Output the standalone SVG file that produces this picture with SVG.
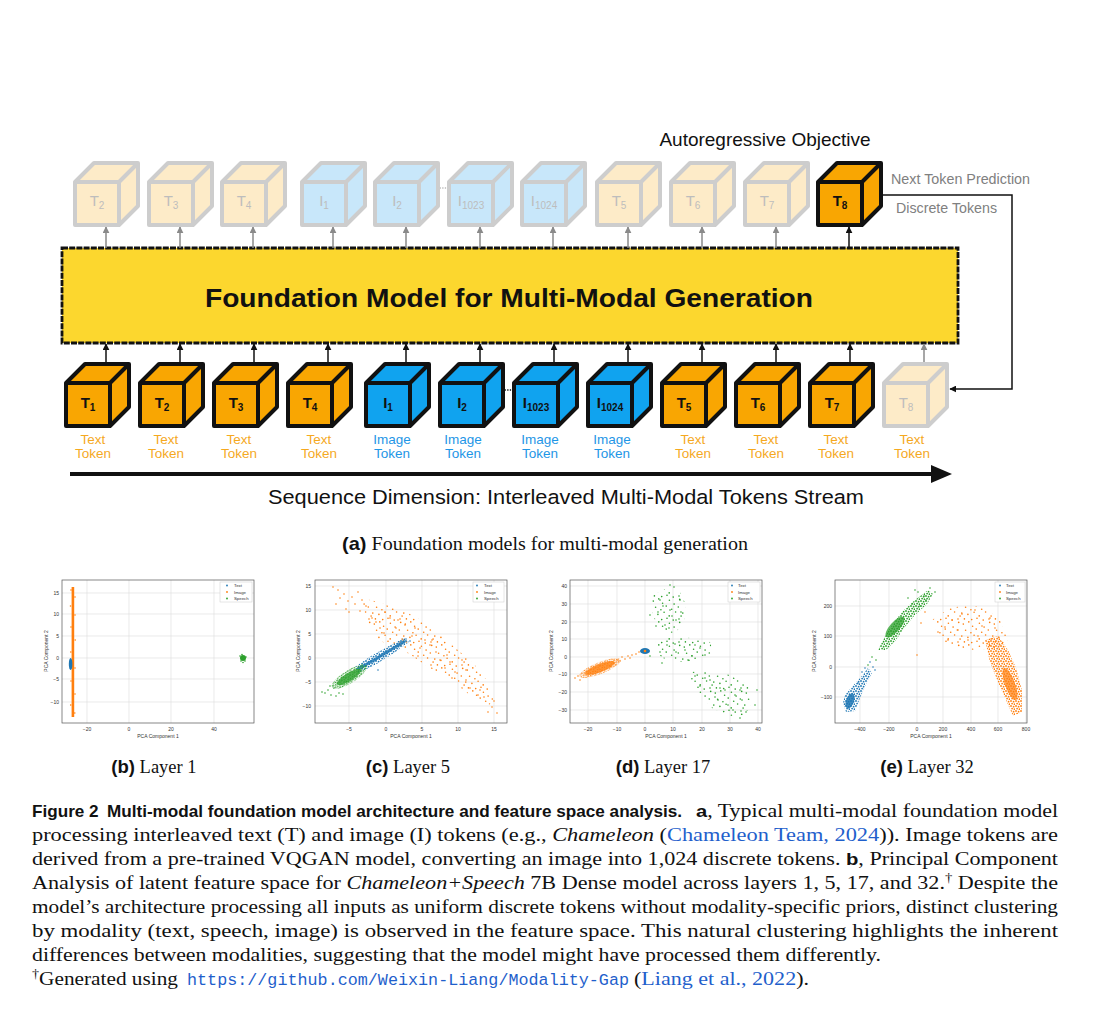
<svg xmlns="http://www.w3.org/2000/svg" xmlns:xlink="http://www.w3.org/1999/xlink" width="1100" height="1014" viewBox="0 0 1100 1014">
<style>
.sans{font-family:"Liberation Sans",Arial,sans-serif}
.cb-o{fill:#F9A602;stroke:#111;stroke-width:4;stroke-linejoin:round}
.cb-b{fill:#10A3EF;stroke:#111;stroke-width:4;stroke-linejoin:round}
.cb-fo{fill:#FDEBC8;stroke:#CDCDCD;stroke-width:4;stroke-linejoin:round}
.cb-fb{fill:#C8E7FA;stroke:#CDCDCD;stroke-width:4;stroke-linejoin:round}
.cl{font:bold 15px "Liberation Sans",Arial,sans-serif;fill:#111;text-anchor:middle}
.cf{font:15px "Liberation Sans",Arial,sans-serif;fill:#BDBDBD;text-anchor:middle}
.sb{font-size:10px}
.lt{font:13.5px "Liberation Sans",Arial,sans-serif;fill:#F5A91F;text-anchor:middle}
.li{font:13.5px "Liberation Sans",Arial,sans-serif;fill:#1E96E6;text-anchor:middle}
.ab{stroke:#111;stroke-width:1.5;fill:none}
.ag{stroke:#8a8a8a;stroke-width:1.5;fill:none}
.tk{font:5px "Liberation Sans",Arial,sans-serif;fill:#333}
.tkx{text-anchor:middle}
.tky{text-anchor:end}
.ax{fill:none;stroke:#555;stroke-width:.7}
.gr{stroke:#dcdcdc;stroke-width:.6;fill:none}
.lg{fill:#fff;stroke:#ccc;stroke-width:.5}
.lgt{font:4.3px "Liberation Sans",Arial,sans-serif;fill:#333}
.po{stroke:#ff7f0e;stroke-width:1.6;stroke-linecap:round;fill:none}
.pg{stroke:#2ca02c;stroke-width:1.6;stroke-linecap:round;fill:none}
.pb{stroke:#1f77b4;stroke-width:1.6;stroke-linecap:round;fill:none}
.cap{font-family:"Liberation Serif","Times New Roman",serif;font-size:18px;fill:#111}
.cb{font-family:"Liberation Sans",Arial,sans-serif;font-weight:bold}
.it{font-style:italic}
.lk{fill:#1f5fcc}
.mono{font-family:"Liberation Mono","Courier New",monospace;font-size:16.8px;fill:#1f5fcc}
.sub{font-family:"Liberation Serif","Times New Roman",serif;font-size:18.5px;fill:#111}
</style>
<defs>
<g id="cube"><path d="M0 19L19 0H63V43L44 62H0Z"/><path d="M0 19H44L63 0M44 19V62" fill="none"/></g>
<marker id="mb" viewBox="0 0 10 10" refX="9" refY="5" markerUnits="userSpaceOnUse" markerWidth="7" markerHeight="7" orient="auto"><path d="M0 0L10 5L0 10z" fill="#111"/></marker>
<marker id="mg" viewBox="0 0 10 10" refX="9" refY="5" markerUnits="userSpaceOnUse" markerWidth="7" markerHeight="7" orient="auto"><path d="M0 0L10 5L0 10z" fill="#8a8a8a"/></marker>
<g id="dS"><circle cx="2.3" cy="3.1" r=".8"/><circle cx="7.8" cy=".9" r=".8"/><circle cx="11.6" cy="5.2" r=".8"/><circle cx="18.4" cy="2.2" r=".8"/><circle cx="23.1" cy="6.1" r=".8"/><circle cx="28.7" cy="1.4" r=".8"/><circle cx="4.6" cy="9.3" r=".8"/><circle cx="9.9" cy="11.8" r=".8"/><circle cx="15.2" cy="8.1" r=".8"/><circle cx="20.7" cy="11.2" r=".8"/><circle cx="27.3" cy="9" r=".8"/><circle cx=".8" cy="15.1" r=".8"/><circle cx="6.9" cy="16.4" r=".8"/><circle cx="13.1" cy="14.2" r=".8"/><circle cx="18.2" cy="17.9" r=".8"/><circle cx="24.6" cy="14" r=".8"/><circle cx="30.1" cy="18.1" r=".8"/><circle cx="3.4" cy="20.9" r=".8"/><circle cx="10.7" cy="21.6" r=".8"/><circle cx="16" cy="20.3" r=".8"/><circle cx="22.2" cy="22.1" r=".8"/><circle cx="28" cy="21" r=".8"/></g>
<g id="dD"><circle cx="1" cy="1" r=".9"/><circle cx="3.6" cy="1.7" r=".9"/><circle cx="2.1" cy="3.6" r=".9"/><circle cx="4.5" cy="4.2" r=".9"/></g>
<pattern id="poS" width="31" height="23" patternUnits="userSpaceOnUse"><use xlink:href="#dS" fill="#ff7f0e"/></pattern>
<pattern id="poD" width="5" height="5" patternUnits="userSpaceOnUse"><use xlink:href="#dD" fill="#ff7f0e"/></pattern>
<pattern id="pgS" width="31" height="23" patternUnits="userSpaceOnUse"><use xlink:href="#dS" fill="#2ca02c"/></pattern>
<pattern id="pgD" width="5" height="5" patternUnits="userSpaceOnUse"><use xlink:href="#dD" fill="#2ca02c"/></pattern>
<pattern id="pbD" width="5" height="5" patternUnits="userSpaceOnUse"><use xlink:href="#dD" fill="#1f77b4"/></pattern>
</defs>
<rect width="1100" height="1014" fill="#fff"/>

<!-- Panel (a) -->
<text x="765" y="146" class="sans" font-size="19" text-anchor="middle" fill="#111">Autoregressive Objective</text>
<text x="891" y="184" class="sans" font-size="14" fill="#808080" textLength="139" lengthAdjust="spacingAndGlyphs">Next Token Prediction</text>
<text x="896" y="213" class="sans" font-size="14" fill="#808080" textLength="101" lengthAdjust="spacingAndGlyphs">Discrete Tokens</text>

<g id="foundation-model">
<rect x="62" y="248" width="896" height="95" fill="#FCD72E" stroke="#111" stroke-width="2.8" stroke-dasharray="6 1.2"/>
<text x="509" y="307" class="sans" font-size="26" font-weight="bold" text-anchor="middle" fill="#111" textLength="608" lengthAdjust="spacingAndGlyphs">Foundation Model for Multi-Modal Generation</text>
</g>

<g id="connectors">
<path class="ab" marker-end="url(#mb)" d="M106 364V344"/>
<path class="ab" marker-end="url(#mb)" d="M180 364V344"/>
<path class="ab" marker-end="url(#mb)" d="M254 364V344"/>
<path class="ab" marker-end="url(#mb)" d="M328 364V344"/>
<path class="ab" marker-end="url(#mb)" d="M406 364V344"/>
<path class="ab" marker-end="url(#mb)" d="M480 364V344"/>
<path class="ab" marker-end="url(#mb)" d="M554 364V344"/>
<path class="ab" marker-end="url(#mb)" d="M628 364V344"/>
<path class="ab" marker-end="url(#mb)" d="M702 364V344"/>
<path class="ab" marker-end="url(#mb)" d="M776 364V344"/>
<path class="ab" marker-end="url(#mb)" d="M850 364V344"/>
<path class="ag" marker-end="url(#mg)" d="M924 364V344"/>
<path class="ag" marker-end="url(#mg)" d="M106 248V227"/>
<path class="ag" marker-end="url(#mg)" d="M180 248V227"/>
<path class="ag" marker-end="url(#mg)" d="M253 248V227"/>
<path class="ag" marker-end="url(#mg)" d="M333 248V227"/>
<path class="ag" marker-end="url(#mg)" d="M406 248V227"/>
<path class="ag" marker-end="url(#mg)" d="M480 248V227"/>
<path class="ag" marker-end="url(#mg)" d="M553 248V227"/>
<path class="ag" marker-end="url(#mg)" d="M628 248V227"/>
<path class="ag" marker-end="url(#mg)" d="M702 248V227"/>
<path class="ag" marker-end="url(#mg)" d="M776 248V227"/>
<path class="ab" marker-end="url(#mb)" d="M849 248V227"/>
<path class="ab" marker-end="url(#mb)" d="M882 195H1012V389H950"/>
<path d="M502 390H514" stroke="#111" stroke-width="1.3" stroke-dasharray="1.3 1.3"/>
<path d="M437 188H449" stroke="#bbb" stroke-width="1.3" stroke-dasharray="1.3 1.3"/>
<path d="M70 474H934" stroke="#111" stroke-width="4"/>
<path d="M931 465L952 474L931 483Z" fill="#111"/>
</g>

<!-- top row cubes -->
<g id="top-T2"><use xlink:href="#cube" x="75" y="163" class="cb-fo"/><text x="97" y="206" class="cf">T<tspan class="sb" dy="3">2</tspan></text></g>
<g id="top-T3"><use xlink:href="#cube" x="149" y="163" class="cb-fo"/><text x="171" y="206" class="cf">T<tspan class="sb" dy="3">3</tspan></text></g>
<g id="top-T4"><use xlink:href="#cube" x="222" y="163" class="cb-fo"/><text x="244" y="206" class="cf">T<tspan class="sb" dy="3">4</tspan></text></g>
<g id="top-I1"><use xlink:href="#cube" x="302" y="163" class="cb-fb"/><text x="324" y="206" class="cf">I<tspan class="sb" dy="3">1</tspan></text></g>
<g id="top-I2"><use xlink:href="#cube" x="375" y="163" class="cb-fb"/><text x="397" y="206" class="cf">I<tspan class="sb" dy="3">2</tspan></text></g>
<g id="top-I1023"><use xlink:href="#cube" x="449" y="163" class="cb-fb"/><text x="471" y="206" class="cf">I<tspan class="sb" dy="3">1023</tspan></text></g>
<g id="top-I1024"><use xlink:href="#cube" x="522" y="163" class="cb-fb"/><text x="544" y="206" class="cf">I<tspan class="sb" dy="3">1024</tspan></text></g>
<g id="top-T5"><use xlink:href="#cube" x="597" y="163" class="cb-fo"/><text x="619" y="206" class="cf">T<tspan class="sb" dy="3">5</tspan></text></g>
<g id="top-T6"><use xlink:href="#cube" x="671" y="163" class="cb-fo"/><text x="693" y="206" class="cf">T<tspan class="sb" dy="3">6</tspan></text></g>
<g id="top-T7"><use xlink:href="#cube" x="745" y="163" class="cb-fo"/><text x="767" y="206" class="cf">T<tspan class="sb" dy="3">7</tspan></text></g>
<g id="top-T8"><use xlink:href="#cube" x="818" y="163" class="cb-o"/><text x="840" y="206" class="cl">T<tspan class="sb" dy="3">8</tspan></text></g>

<!-- bottom row cubes -->
<g id="in-T1"><use xlink:href="#cube" x="66" y="364" class="cb-o"/><text x="88" y="408" class="cl">T<tspan class="sb" dy="3">1</tspan></text><text x="93" y="444" class="lt">Text</text><text x="93" y="458" class="lt">Token</text></g>
<g id="in-T2"><use xlink:href="#cube" x="140" y="364" class="cb-o"/><text x="162" y="408" class="cl">T<tspan class="sb" dy="3">2</tspan></text><text x="166" y="444" class="lt">Text</text><text x="166" y="458" class="lt">Token</text></g>
<g id="in-T3"><use xlink:href="#cube" x="214" y="364" class="cb-o"/><text x="236" y="408" class="cl">T<tspan class="sb" dy="3">3</tspan></text><text x="239" y="444" class="lt">Text</text><text x="239" y="458" class="lt">Token</text></g>
<g id="in-T4"><use xlink:href="#cube" x="288" y="364" class="cb-o"/><text x="310" y="408" class="cl">T<tspan class="sb" dy="3">4</tspan></text><text x="319" y="444" class="lt">Text</text><text x="319" y="458" class="lt">Token</text></g>
<g id="in-I1"><use xlink:href="#cube" x="366" y="364" class="cb-b"/><text x="388" y="408" class="cl">I<tspan class="sb" dy="3">1</tspan></text><text x="392" y="444" class="li">Image</text><text x="392" y="458" class="li">Token</text></g>
<g id="in-I2"><use xlink:href="#cube" x="440" y="364" class="cb-b"/><text x="462" y="408" class="cl">I<tspan class="sb" dy="3">2</tspan></text><text x="463" y="444" class="li">Image</text><text x="463" y="458" class="li">Token</text></g>
<g id="in-I1023"><use xlink:href="#cube" x="514" y="364" class="cb-b"/><text x="536" y="408" class="cl">I<tspan class="sb" dy="3">1023</tspan></text><text x="540" y="444" class="li">Image</text><text x="540" y="458" class="li">Token</text></g>
<g id="in-I1024"><use xlink:href="#cube" x="588" y="364" class="cb-b"/><text x="610" y="408" class="cl">I<tspan class="sb" dy="3">1024</tspan></text><text x="612" y="444" class="li">Image</text><text x="612" y="458" class="li">Token</text></g>
<g id="in-T5"><use xlink:href="#cube" x="662" y="364" class="cb-o"/><text x="684" y="408" class="cl">T<tspan class="sb" dy="3">5</tspan></text><text x="693" y="444" class="lt">Text</text><text x="693" y="458" class="lt">Token</text></g>
<g id="in-T6"><use xlink:href="#cube" x="736" y="364" class="cb-o"/><text x="758" y="408" class="cl">T<tspan class="sb" dy="3">6</tspan></text><text x="766" y="444" class="lt">Text</text><text x="766" y="458" class="lt">Token</text></g>
<g id="in-T7"><use xlink:href="#cube" x="810" y="364" class="cb-o"/><text x="832" y="408" class="cl">T<tspan class="sb" dy="3">7</tspan></text><text x="836" y="444" class="lt">Text</text><text x="836" y="458" class="lt">Token</text></g>
<g id="in-T8"><use xlink:href="#cube" x="884" y="364" class="cb-fo"/><text x="906" y="408" class="cf">T<tspan class="sb" dy="3">8</tspan></text><text x="912" y="444" class="lt">Text</text><text x="912" y="458" class="lt">Token</text></g>

<text x="566" y="504" class="sans" font-size="20.5" text-anchor="middle" fill="#111" textLength="596" lengthAdjust="spacingAndGlyphs">Sequence Dimension: Interleaved Multi-Modal Tokens Stream</text>

<text x="342" y="550" class="sub" font-size="17" textLength="406" lengthAdjust="spacingAndGlyphs"><tspan class="cb">(a)</tspan>  Foundation models for multi-modal generation</text>

<!-- Plot (b) -->
<g id="plot-b">
<path class="gr" d="M87 580V723M129 580V723M171 580V723M214 580V723M62 593H254M62 614H254M62 636H254M62 658H254M62 679H254M62 702H254"/>
<rect x="71.6" y="587" width="2.6" height="130" fill="#ff7f0e"/>
<path class="po" d="M71 590h0M75 597h0M70.5 606h0M75 615h0M71 627h0M75.2 640h0M70.8 652h0M75 668h0M71 681h0M75 694h0M70.7 705h0M74.8 713h0"/>
<ellipse cx="70.6" cy="664" rx="1.8" ry="6" fill="#1f77b4"/>
<circle cx="243" cy="658" r="3" fill="#2ca02c"/>
<path class="pg" d="M240 656h0M246 657h0M241 661h0M245 661h0M243 662.5h0M242 654.5h0"/>
<rect x="62" y="580" width="192" height="143" class="ax"/>
<g class="tk tkx"><text x="87" y="731">−20</text><text x="129" y="731">0</text><text x="171" y="731">20</text><text x="214" y="731">40</text><text x="158" y="738">PCA Component 1</text></g>
<g class="tk tky"><text x="59" y="595">15</text><text x="59" y="616">10</text><text x="59" y="638">5</text><text x="59" y="660">0</text><text x="59" y="681">−5</text><text x="59" y="704">−10</text></g>
<text class="tk tkx" transform="translate(48 651) rotate(-90)">PCA Component 2</text>
<rect x="220" y="582" width="32" height="20" class="lg"/>
<circle cx="227" cy="585.5" r=".9" fill="#1f77b4"/><circle cx="227" cy="592" r=".9" fill="#ff7f0e"/><circle cx="227" cy="598.5" r=".9" fill="#2ca02c"/>
<g class="lgt"><text x="234" y="587">Text</text><text x="234" y="593.5">Image</text><text x="234" y="600">Speech</text></g>
</g>
<text x="154" y="773" class="sub" text-anchor="middle"><tspan class="cb">(b)</tspan>  Layer 1</text>

<!-- Plot (c) -->
<g id="plot-c">
<path class="gr" d="M349 580V723M386 580V723M422 580V723M458 580V723M494 580V723M315 586H507M315 610H507M315 634H507M315 658H507M315 682H507M315 706H507"/>
<path fill="url(#poS)" d="M362 598L378 602L392 607L408 613L424 622L440 634L458 650L474 664L488 682L494 700L488 706L474 698L458 686L440 674L424 664L406 652L392 646L378 640L368 628L364 612Z"/>
<path class="po" d="M333 587h0M338 590h0M340 598h0M344 594h0M348 601h0M336 604h0M346 609h0M352 597h0M355 604h0M358 592h0M362 600h0M349 612h0M360 611h0M366 606h0M372 618h0M385 612h0M398 620h0M415 628h0M432 640h0M447 655h0M466 670h0M480 690h0M497 713h0M492 707h0M488 712h0M494 701h0M384 633h0M403 640h0M420 648h0M440 660h0M455 672h0M470 688h0M478 695h0M430 645h0M450 662h0M412 636h0M396 628h0M376 622h0M466 680h0M484 697h0M405 625h0M425 640h0M445 668h0M462 660h0M436 652h0M390 618h0M380 628h0M418 656h0M452 678h0"/>
<path fill="url(#pbD)" d="M355 667L371 656L389 646L404 638L409 642L394 653L375 665L358 673Z"/>
<path d="M358 669L374 660L392 649L405 641" stroke="#1f77b4" stroke-width="3" fill="none" opacity=".85"/>
<path class="pb" d="M410 641h0M406 639h0M398 646h0M386 652h0M376 660h0M365 666h0M378 670h0"/>
<ellipse cx="349" cy="677" rx="20" ry="6.5" transform="rotate(-32 349 677)" fill="url(#pgD)"/>
<ellipse cx="349" cy="677" rx="14" ry="4" transform="rotate(-32 349 677)" fill="#2ca02c" opacity=".8"/>
<path class="pg" d="M325 693h0M328 690h0M331 695h0M334 688h0M322 692h0M339 693h0M343 694h0M362 665h0M366 666h0M330 686h0M336 696h0"/>
<rect x="315" y="580" width="192" height="143" class="ax"/>
<g class="tk tkx"><text x="349" y="731">−5</text><text x="386" y="731">0</text><text x="422" y="731">5</text><text x="458" y="731">10</text><text x="494" y="731">15</text><text x="411" y="738">PCA Component 1</text></g>
<g class="tk tky"><text x="311" y="588">15</text><text x="311" y="612">10</text><text x="311" y="636">5</text><text x="311" y="660">0</text><text x="311" y="684">−5</text><text x="311" y="708">−10</text></g>
<text class="tk tkx" transform="translate(300 651) rotate(-90)">PCA Component 2</text>
<rect x="473" y="582" width="31" height="20" class="lg"/>
<circle cx="477" cy="585.5" r=".9" fill="#1f77b4"/><circle cx="477" cy="592" r=".9" fill="#ff7f0e"/><circle cx="477" cy="598.5" r=".9" fill="#2ca02c"/>
<g class="lgt"><text x="484" y="587">Text</text><text x="484" y="593.5">Image</text><text x="484" y="600">Speech</text></g>
</g>
<text x="408" y="773" class="sub" text-anchor="middle"><tspan class="cb">(c)</tspan>  Layer 5</text>

<!-- Plot (d) -->
<g id="plot-d">
<path class="gr" d="M588 580V723M617 580V723M645 580V723M673 580V723M702 580V723M730 580V723M758 580V723M570 586H762M570 604H762M570 622H762M570 639H762M570 657H762M570 674H762M570 692H762M570 710H762"/>
<ellipse cx="600" cy="668" rx="22" ry="6" transform="rotate(-22 600 668)" fill="url(#poD)"/>
<ellipse cx="600" cy="668" rx="16" ry="4" transform="rotate(-22 600 668)" fill="#ff7f0e" opacity=".8"/>
<path class="po" d="M620 661h0M625 659h0M628 656h0M632 655h0M636 654h0M639 652h0M614 663h0M618 660h0M622 657h0M630 658h0M578 676h0M575 678h0M580 680h0M610 666h0"/>
<ellipse cx="645" cy="651" rx="5" ry="3" fill="#1f77b4"/>
<circle cx="645" cy="651" r="1.3" fill="#ff7f0e"/>
<path fill="url(#pgS)" d="M652 595L668 588L680 592L686 605L684 622L676 632L664 634L655 620L650 605Z"/>
<path fill="url(#pgS)" d="M656 640L670 636L690 638L710 642L713 652L700 660L680 662L662 658L655 650Z"/>
<path fill="url(#pgS)" d="M690 672L710 670L730 675L748 685L753 700L745 715L730 716L712 708L700 695L690 682Z"/>
<path class="pg" d="M674 587h0M670 585h0M656 626h0M650 615h0M660 600h0M670 610h0M676 620h0M665 625h0M680 600h0M667 645h0M685 650h0M700 648h0M692 656h0M676 652h0M660 652h0M705 678h0M720 688h0M735 695h0M728 705h0M742 700h0M715 697h0M757 690h0M755 705h0M740 718h0M746 712h0M695 676h0M650 656h0M662 663h0M663 606h0M672 616h0M681 612h0M669 628h0M658 612h0M675 644h0M695 645h0M705 655h0M688 660h0M710 680h0M725 690h0M733 710h0M718 700h0M740 690h0M700 686h0"/>
<rect x="570" y="580" width="192" height="143" class="ax"/>
<g class="tk tkx"><text x="588" y="731">−20</text><text x="617" y="731">−10</text><text x="645" y="731">0</text><text x="673" y="731">10</text><text x="702" y="731">20</text><text x="730" y="731">30</text><text x="758" y="731">40</text><text x="666" y="738">PCA Component 1</text></g>
<g class="tk tky"><text x="567" y="588">40</text><text x="567" y="606">30</text><text x="567" y="624">20</text><text x="567" y="641">10</text><text x="567" y="659">0</text><text x="567" y="676">−10</text><text x="567" y="694">−20</text><text x="567" y="712">−30</text></g>
<text class="tk tkx" transform="translate(553 651) rotate(-90)">PCA Component 2</text>
<rect x="728" y="582" width="32" height="20" class="lg"/>
<circle cx="732" cy="585.5" r=".9" fill="#1f77b4"/><circle cx="732" cy="592" r=".9" fill="#ff7f0e"/><circle cx="732" cy="598.5" r=".9" fill="#2ca02c"/>
<g class="lgt"><text x="738" y="587">Text</text><text x="738" y="593.5">Image</text><text x="738" y="600">Speech</text></g>
</g>
<text x="663" y="773" class="sub" text-anchor="middle"><tspan class="cb">(d)</tspan>  Layer 17</text>

<!-- Plot (e) -->
<g id="plot-e">
<path class="gr" d="M860 580V723M889 580V723M917 580V723M943 580V723M971 580V723M998 580V723M1026 580V723M835 606H1027M835 636H1027M835 667H1027M835 697H1027"/>
<path fill="url(#pbD)" d="M843 703L846 712L855 711L860 698L866 684L872 673L868 668L860 678L851 688L845 695Z"/>
<ellipse cx="850" cy="701" rx="4" ry="8" transform="rotate(20 850 701)" fill="#1f77b4" opacity=".85"/>
<path class="pb" d="M865 668h0M870 662h0M862 672h0M873 667h0M875 670h0M858 683h0"/>
<path fill="url(#pgD)" d="M878 650L884 638L892 625L902 612L915 600L928 590L933 594L927 604L914 616L904 628L896 640L886 650Z"/>
<ellipse cx="895" cy="627" rx="13" ry="5" transform="rotate(-48 895 627)" fill="#2ca02c" opacity=".75"/>
<path class="pg" d="M872 657h0M876 660h0M868 665h0M918 592h0M924 596h0M930 588h0M935 592h0M912 604h0M920 606h0M926 600h0M908 598h0M915 590h0"/>
<path fill="url(#poS)" d="M932 620L950 608L968 605L985 608L1000 620L1008 640L996 648L975 650L955 648L940 640Z"/>
<path class="po" d="M925 612h0M921 623h0M945 627h0M962 614h0M975 610h0M917 655h0M952 620h0M990 618h0M938 632h0M982 626h0M968 640h0M958 630h0M978 636h0M995 628h0M948 640h0"/>
<path fill="url(#poD)" d="M985 640L998 636L1008 650L1016 668L1022 690L1022 712L1013 716L1006 700L998 682L990 662Z"/>
<ellipse cx="1010" cy="684" rx="5" ry="17" transform="rotate(-20 1010 684)" fill="#ff7f0e" opacity=".7"/>
<rect x="835" y="580" width="192" height="143" class="ax"/>
<g class="tk tkx"><text x="860" y="731">−400</text><text x="889" y="731">−200</text><text x="917" y="731">0</text><text x="943" y="731">200</text><text x="971" y="731">400</text><text x="998" y="731">600</text><text x="1026" y="731">800</text><text x="931" y="738">PCA Component 1</text></g>
<g class="tk tky"><text x="832" y="608">200</text><text x="832" y="638">100</text><text x="832" y="669">0</text><text x="832" y="699">−100</text></g>
<text class="tk tkx" transform="translate(816 651) rotate(-90)">PCA Component 2</text>
<rect x="995" y="582" width="30" height="20" class="lg"/>
<circle cx="1000" cy="585.5" r=".9" fill="#1f77b4"/><circle cx="1000" cy="592" r=".9" fill="#ff7f0e"/><circle cx="1000" cy="598.5" r=".9" fill="#2ca02c"/>
<g class="lgt"><text x="1006" y="587">Text</text><text x="1006" y="593.5">Image</text><text x="1006" y="600">Speech</text></g>
</g>
<text x="927" y="773" class="sub" text-anchor="middle"><tspan class="cb">(e)</tspan>  Layer 32</text>

<!-- Caption -->
<g id="caption" class="cap">
<text x="32" y="817" class="cb" font-size="16.5" textLength="650" lengthAdjust="spacingAndGlyphs">Figure 2<tspan dx="8">Multi-modal foundation model architecture and feature space analysis.</tspan></text>
<text x="696" y="817" textLength="362" lengthAdjust="spacingAndGlyphs"><tspan class="cb" font-size="16.5">a</tspan>, Typical multi-modal foundation model</text>
<text x="32" y="841" textLength="1026" lengthAdjust="spacingAndGlyphs">processing interleaved text (T) and image (I) tokens (e.g., <tspan class="it">Chameleon</tspan> (<tspan class="lk">Chameleon Team, 2024</tspan>)). Image tokens are</text>
<text x="32" y="865" textLength="1026" lengthAdjust="spacingAndGlyphs">derived from a pre-trained VQGAN model, converting an image into 1,024 discrete tokens. <tspan class="cb" font-size="16.5">b</tspan>, Principal Component</text>
<text x="32" y="889" textLength="1026" lengthAdjust="spacingAndGlyphs">Analysis of latent feature space for <tspan class="it">Chameleon+Speech</tspan> 7B Dense model across layers 1, 5, 17, and 32.<tspan font-size="12" dy="-7">†</tspan><tspan dy="7"> Despite the</tspan></text>
<text x="32" y="913" textLength="1026" lengthAdjust="spacingAndGlyphs">model’s architecture processing all inputs as uniform discrete tokens without modality-specific priors, distinct clustering</text>
<text x="32" y="937" textLength="1026" lengthAdjust="spacingAndGlyphs">by modality (text, speech, image) is observed in the feature space. This natural clustering highlights the inherent</text>
<text x="32" y="961" textLength="849" lengthAdjust="spacingAndGlyphs">differences between modalities, suggesting that the model might have processed them differently.</text>
<text x="32" y="985" textLength="146" lengthAdjust="spacingAndGlyphs"><tspan font-size="12" dy="-7">†</tspan><tspan font-size="18" dy="7">Generated using</tspan></text>
<text x="187" y="985" class="mono" textLength="442" lengthAdjust="spacingAndGlyphs">https://github.com/Weixin-Liang/Modality-Gap</text>
<text x="634" y="985" textLength="175" lengthAdjust="spacingAndGlyphs">(<tspan class="lk">Liang et al., 2022</tspan>).</text>
</g>
</svg>
